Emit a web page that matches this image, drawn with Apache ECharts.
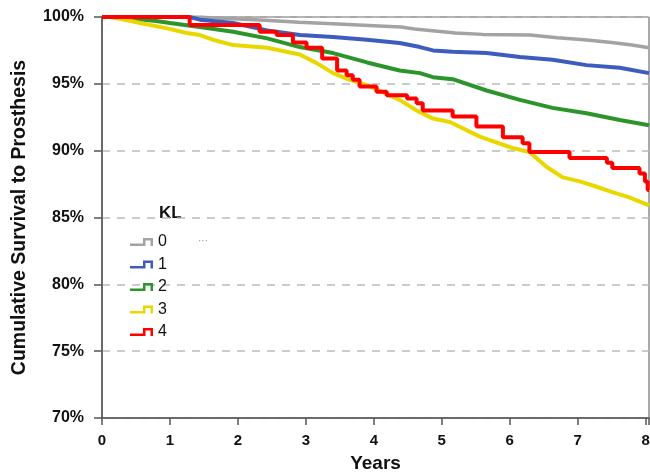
<!DOCTYPE html>
<html>
<head>
<meta charset="utf-8">
<script src="https://cdn.jsdelivr.net/npm/echarts@6/dist/echarts.min.js"></script>
<style>
  html, body { margin: 0; padding: 0; background: #fff; }
  #chart { width: 650px; height: 473px; }
</style>
</head>
<body>
<div id="chart"></div>
<script>
// KL grade names and colours
var groups = ['0', '1', '2', '3', '4'];
var colors = ['#a3a3a3', '#3e5cbd', '#2b952b', '#e8d800', '#ff0000'];

// [years, survival %]
var kl0 = [[0, 100], [1.45, 100], [1.6, 99.95], [2.0, 99.85], [2.4, 99.75], [2.9, 99.6], [3.4, 99.5],
    [4.0, 99.35], [4.4, 99.25], [4.6, 99.1], [4.9, 98.95], [5.2, 98.8], [5.6, 98.7], [6.3, 98.65],
    [6.7, 98.45], [7.1, 98.3], [7.5, 98.1], [7.8, 97.9], [8.05, 97.7]];
var kl1 = [[0, 100], [1.29, 100], [1.44, 99.8], [1.93, 99.55], [2.43, 99.0], [2.91, 98.65], [3.4, 98.5],
    [3.9, 98.3], [4.38, 98.05], [4.68, 97.75], [4.87, 97.5], [5.16, 97.4], [5.66, 97.3], [6.15, 97.0],
    [6.63, 96.8], [7.13, 96.4], [7.62, 96.2], [8.05, 95.8]];
var kl2 = [[0, 100], [0.3, 100], [0.5, 99.85], [0.8, 99.7], [1.0, 99.55], [1.3, 99.35], [1.44, 99.25],
    [1.93, 98.9], [2.43, 98.4], [2.91, 97.75], [3.4, 97.3], [3.9, 96.6], [4.38, 96.0], [4.68, 95.8],
    [4.87, 95.5], [5.16, 95.35], [5.66, 94.5], [6.15, 93.8], [6.63, 93.2], [7.13, 92.8], [7.62, 92.3],
    [8.05, 91.9]];
var kl3 = [[0, 100], [0.12, 100], [0.28, 99.85], [0.56, 99.55], [0.96, 99.15], [1.25, 98.8], [1.44, 98.65],
    [1.63, 98.3], [1.93, 97.9], [2.43, 97.7], [2.91, 97.2], [3.16, 96.55], [3.4, 95.8], [3.65, 95.3],
    [3.9, 94.9], [4.38, 93.8], [4.63, 93.0], [4.87, 92.4], [5.12, 92.15], [5.56, 91.05], [6.04, 90.2],
    [6.29, 89.9], [6.54, 88.8], [6.78, 88.0], [7.03, 87.7], [7.28, 87.3], [7.51, 86.9], [7.76, 86.5],
    [8.05, 85.9]];
var kl4 = [[0, 100], [1.29, 99.4], [2.32, 98.9], [2.57, 98.65], [2.81, 98.1], [3.01, 97.7], [3.24, 96.9],
    [3.46, 96.0], [3.6, 95.65], [3.69, 95.3], [3.79, 94.8], [4.04, 94.4], [4.19, 94.15], [4.49, 93.9],
    [4.63, 93.55], [4.72, 93.0], [5.16, 92.55], [5.51, 91.8], [5.9, 91.0], [6.19, 90.55], [6.29, 89.9],
    [6.88, 89.45], [7.43, 89.1], [7.51, 88.7], [7.91, 88.3], [7.99, 87.7], [8.03, 87.05], [8.05, 87.05]];
var curves = [kl0, kl1, kl2, kl3, kl4];
// only the small KL 4 group shows clear steps
var stepped = [false, false, false, false, 'end'];

var yTicks = [70, 75, 80, 85, 90, 95, 100];

var font = "'Liberation Sans', Arial, sans-serif";
var stepIcon = 'path://M0,5.5 L13,5.5 L13,0 L23,0 L23,8 L20.5,8 L20.5,2.5 L15.5,2.5 L15.5,8 L0,8 Z';

var chart = echarts.init(document.getElementById('chart'));

var series = groups.map(function (g, i) {
    return {
        name: g,
        type: 'line',
        step: stepped[i],
        symbol: 'none',
        data: curves[i],
        z: i + 2,
        lineStyle: {color: colors[i], width: i === 0 ? 3.5 : 4},
        itemStyle: {color: colors[i]}
    };
});

var option = {
    animation: false,
    backgroundColor: '#fff',
    grid: {
        left: 102, right: 1, top: 17, bottom: 55,
        outerBoundsMode: 'none',
        show: true, borderColor: '#555', borderWidth: 1
    },
    legend: {
        data: groups,
        orient: 'vertical',
        left: 130,
        top: 234,
        padding: 0,
        itemWidth: 23,
        itemHeight: 8,
        itemGap: 6.5,
        icon: stepIcon,
        textStyle: {fontSize: 16, color: '#111', fontFamily: font}
    },
    graphic: [
        {type: 'text', left: 159, top: 205,
            style: {text: 'KL', font: 'bold 17px ' + font, fill: '#111'}},
        {type: 'text', left: 198, top: 236,
            style: {text: '···', font: '10px ' + font, fill: '#999'}}
    ],
    xAxis: {
        type: 'value',
        min: 0,
        max: 8.05,
        interval: 1,
        name: 'Years',
        nameLocation: 'middle',
        nameGap: 36,
        nameTextStyle: {fontSize: 19, fontWeight: 'bold', color: '#111', fontFamily: font},
        axisLine: {lineStyle: {color: '#555', width: 1.5}},
        axisTick: {length: 7, lineStyle: {color: '#555', width: 1.5}},
        axisLabel: {
            margin: 15, fontSize: 15, fontWeight: 'bold', color: '#111', fontFamily: font,
            formatter: function (v) { return v % 1 === 0 ? String(v) : ''; }
        },
        splitLine: {show: false}
    },
    yAxis: {
        type: 'value',
        min: yTicks[0],
        max: yTicks[yTicks.length - 1],
        interval: 5,
        name: 'Cumulative Survival to Prosthesis',
        nameLocation: 'middle',
        nameGap: 72,
        nameTextStyle: {fontSize: 19.5, fontWeight: 'bold', color: '#111', fontFamily: font},
        axisLine: {show: true, lineStyle: {color: '#555', width: 1.5}},
        axisTick: {show: true, length: 8, lineStyle: {color: '#555', width: 1.5}},
        axisLabel: {
            margin: 18, fontSize: 16, fontWeight: 'bold', color: '#111', fontFamily: font,
            formatter: '{value}%'
        },
        splitLine: {lineStyle: {color: '#bbb', type: [8, 7], width: 1.5}}
    },
    series: series
};

chart.setOption(option);
</script>
</body>
</html>
